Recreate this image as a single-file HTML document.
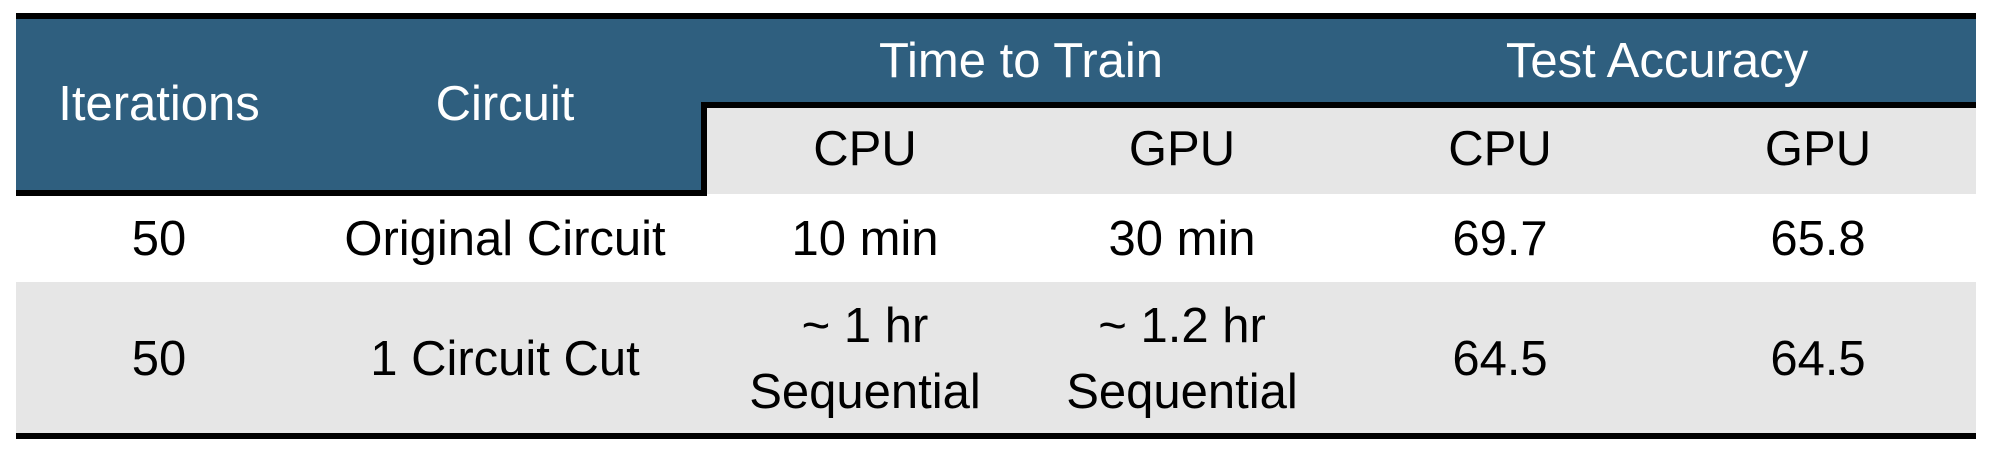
<!DOCTYPE html>
<html><head><meta charset="utf-8"><style>
html,body{margin:0;padding:0;background:#fff;}
svg{display:block;}
text{font-family:"Liberation Sans",sans-serif;font-size:49px;text-anchor:middle;}
.w{fill:#fff;} .b{fill:#000;}
</style></head><body>
<svg width="1994" height="456" viewBox="0 0 1994 456" xmlns="http://www.w3.org/2000/svg">
<rect x="0" y="0" width="1994" height="456" fill="#fff"/>
<!-- header blue -->
<rect x="16" y="16" width="1960" height="178" fill="#2F5F7F"/>
<!-- sub header gray -->
<rect x="703" y="104" width="1273" height="90" fill="#E6E6E6"/>
<!-- row2 gray -->
<rect x="16" y="282" width="1960" height="152" fill="#E6E6E6"/>
<!-- borders -->
<rect x="16" y="13" width="1960" height="6" fill="#000"/>
<polyline points="16,193 704,193 704,105 1976,105" fill="none" stroke="#000" stroke-width="6"/>
<rect x="16" y="433" width="1960" height="6" fill="#000"/>
<!-- header text -->
<text class="w" x="159" y="120">Iterations</text>
<text class="w" x="505" y="120">Circuit</text>
<text class="w" x="1021" y="77">Time to Train</text>
<text class="w" x="1657" y="77">Test Accuracy</text>
<text class="b" x="865" y="165">CPU</text>
<text class="b" x="1182" y="165">GPU</text>
<text class="b" x="1500" y="165">CPU</text>
<text class="b" x="1818" y="165">GPU</text>
<!-- row1 -->
<text class="b" x="159" y="255">50</text>
<text class="b" x="505" y="255">Original Circuit</text>
<text class="b" x="865" y="255">10 min</text>
<text class="b" x="1182" y="255">30 min</text>
<text class="b" x="1500" y="255">69.7</text>
<text class="b" x="1818" y="255">65.8</text>
<!-- row2 -->
<text class="b" x="159" y="375">50</text>
<text class="b" x="505" y="375">1 Circuit Cut</text>
<text class="b" x="865" y="342">~ 1 hr</text>
<text class="b" x="865" y="408">Sequential</text>
<text class="b" x="1182" y="342">~ 1.2 hr</text>
<text class="b" x="1182" y="408">Sequential</text>
<text class="b" x="1500" y="375">64.5</text>
<text class="b" x="1818" y="375">64.5</text>
</svg>
</body></html>
